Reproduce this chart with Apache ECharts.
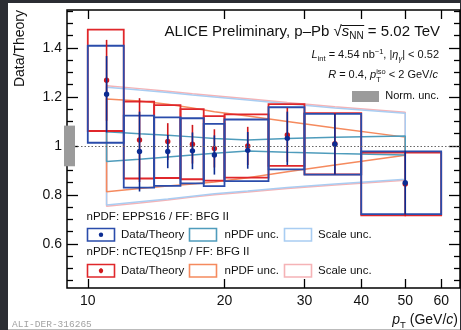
<!DOCTYPE html>
<html>
<head>
<meta charset="utf-8">
<script src="https://cdn.jsdelivr.net/npm/echarts@6/dist/echarts.min.js"></script>
<style>
  html, body { margin: 0; padding: 0; background: #2b2d33; }
  #panel { position: absolute; left: 8px; top: 3px; width: 452px; height: 326px; background: #fff; border-bottom: 1px solid #bbb; }
  #chart { position: absolute; left: 0; top: 0; width: 461px; height: 330px; }
</style>
</head>
<body>
<div id="panel"></div>
<div id="chart"></div>
<script>
// pT bins (GeV/c)
const binLo    = [10, 12, 14, 16, 18, 20, 25, 30, 40];
const binHi    = [12, 14, 16, 18, 20, 25, 30, 40, 60];
const ptCenter = [11, 13, 15, 17, 19, 22.5, 27.5, 35, 50];

// Data / theory, EPPS16 nPDF + BFG II FF
const eppsRatio = [1.211, 0.977, 0.977, 0.980, 0.963, 0.982, 1.031, 1.007, 0.850];
const eppsStat  = [0.156, 0.163, 0.068, 0.075, 0.080, 0.075, 0.109, 0.124, 0.130];
const eppsSyst  = [0.198, 0.147, 0.140, 0.133, 0.127, 0.126, 0.127, 0.124, 0.128];

// Data / theory, nCTEQ15np nPDF + BFG II FF
const ncteqRatio = [1.268, 1.024, 1.018, 1.007, 0.990, 1.000, 1.045, 1.009, 0.845];
const ncteqStat  = [0.165, 0.171, 0.075, 0.079, 0.078, 0.078, 0.110, 0.125, 0.132];
const ncteqSyst  = [0.207, 0.157, 0.149, 0.143, 0.132, 0.129, 0.126, 0.125, 0.128];

// Theory uncertainty bands (relative), at the bin centres
const eppsScaleHi  = [1.240, 1.228, 1.218, 1.208, 1.200, 1.188, 1.172, 1.155, 1.133];
const eppsScaleLo  = [0.759, 0.772, 0.783, 0.795, 0.805, 0.816, 0.830, 0.845, 0.864];
const ncteqScaleHi = [1.246, 1.234, 1.223, 1.213, 1.205, 1.193, 1.177, 1.160, 1.138];
const ncteqScaleLo = [0.754, 0.767, 0.779, 0.791, 0.801, 0.812, 0.826, 0.841, 0.860];
const eppsPdfHi    = [1.058, 1.050, 1.044, 1.037, 1.030, 1.024, 1.030, 1.035, 1.041];
const eppsPdfLo    = [0.936, 0.946, 0.955, 0.963, 0.970, 0.979, 0.974, 0.969, 0.963];
const ncteqPdfHi   = [1.192, 1.183, 1.170, 1.155, 1.140, 1.122, 1.100, 1.073, 1.036];
const ncteqPdfLo   = [0.813, 0.826, 0.836, 0.845, 0.853, 0.870, 0.895, 0.922, 0.962];

// Normalisation uncertainty (relative)
const normUnc = 0.083;

// Axis ticks
const xTickLabels = [10, 20, 30, 40, 50, 60];
const yTickLabels = [0.6, 0.8, 1, 1.2, 1.4];
const yMinorTicks = [0.45, 0.5, 0.55, 0.65, 0.7, 0.75, 0.85, 0.9, 0.95, 1.05, 1.1, 1.15, 1.25, 1.3, 1.35, 1.45, 1.5, 1.55];
const X_MIN = 9, X_MAX = 66, Y_MIN = 0.42, Y_MAX = 1.555;

const C = {
  blueBox: '#2a4cab', bluePt: '#0c2c92',
  redBox: '#e0272b', redPt: '#cf181c',
  teal: '#4f9cbc', lightBlue: '#a9cdf2',
  orange: '#f58a5e', pink: '#f5b3b6',
  norm: '#9b9b9b', text: '#111'
};
const FONT = '"Liberation Sans", Arial, sans-serif';

function band(hi, lo) {
  const pts = ptCenter.map((x, i) => [x, hi[i]]);
  for (let i = ptCenter.length - 1; i >= 0; i--) pts.push([ptCenter[i], lo[i]]);
  pts.push([ptCenter[0], hi[0]]);
  return pts;
}
function bandSeries(hi, lo, color) {
  return {
    type: 'line', data: band(hi, lo), showSymbol: false, silent: true,
    lineStyle: { color: color, width: 1.5 }, z: 2, clip: false
  };
}
function boxSeries(val, syst, color) {
  return {
    type: 'custom', z: 3, silent: true,
    data: binLo.map((lo, i) => [lo, binHi[i], val[i], syst[i]]),
    encode: { x: [0, 1], y: 2 },
    renderItem: function (params, api) {
      const a = api.coord([api.value(0), api.value(2) + api.value(3)]);
      const b = api.coord([api.value(1), api.value(2) - api.value(3)]);
      return { type: 'rect', shape: { x: a[0], y: a[1], width: b[0] - a[0], height: b[1] - a[1] },
               style: { fill: 'none', stroke: color, lineWidth: 1.8 } };
    }
  };
}
function pointSeries(val, stat, color) {
  return {
    type: 'custom', z: 4, silent: true,
    data: ptCenter.map((x, i) => [x, val[i], stat[i]]),
    encode: { x: 0, y: 1 },
    renderItem: function (params, api) {
      const c = api.coord([api.value(0), api.value(1)]);
      const t = api.coord([api.value(0), api.value(1) + api.value(2)]);
      const b = api.coord([api.value(0), api.value(1) - api.value(2)]);
      return { type: 'group', children: [
        { type: 'line', shape: { x1: t[0], y1: t[1], x2: b[0], y2: b[1] }, style: { stroke: color, lineWidth: 1.6 } },
        { type: 'circle', shape: { cx: c[0], cy: c[1], r: 2.7 }, style: { fill: color } }
      ] };
    }
  };
}

// Lay out a line of mixed-size text pieces, right-aligned at rightX on a baseline
const mctx = document.createElement('canvas').getContext('2d');
function textLine(pieces, anchorX, baseY, alignRight) {
  let x = 0, lastX = 0;
  const placed = [];
  pieces.forEach(p => {
    const font = (p.it ? 'italic ' : '') + p.s + 'px ' + FONT;
    mctx.font = font;
    const w = mctx.measureText(p.t).width;
    if (p.stack) { placed.push({ p, font, x: lastX }); x = Math.max(x, lastX + w); }
    else { placed.push({ p, font, x }); lastX = x; x += w; }
  });
  const x0 = alignRight ? anchorX - x : anchorX;
  const els = placed.map(q => ({
    type: 'text', x: x0 + q.x, y: baseY + (q.p.dy || 0) - 0.34 * q.p.s, silent: true,
    style: { text: q.p.t, font: q.font, fill: q.p.fill || C.text, align: 'left', verticalAlign: 'middle' }
  }));
  els.placed = placed.map(q => ({ x: x0 + q.x, t: q.p.t, font: q.font }));
  return els;
}
function widthOf(t, font) { mctx.font = font; return mctx.measureText(t).width; }

// Title and annotations
const g = [];
const title = textLine([
  { t: 'ALICE Preliminary, p\u2013Pb ', s: 15 },
  { t: '\u221A', s: 15 },
  { t: 's', s: 15, it: true },
  { t: 'NN', s: 10, dy: 3.5 },
  { t: ' = 5.02 TeV', s: 15 }
], 440, 36.5, true);
g.push(...title);
{
  const sx = title.placed[2].x;
  const ex = title.placed[3].x + widthOf('NN', '10px ' + FONT);
  g.push({ type: 'line', silent: true, shape: { x1: sx - 0.5, y1: 25.5, x2: ex + 0.5, y2: 25.5 }, style: { stroke: C.text, lineWidth: 1 } });
}
g.push(...textLine([
  { t: 'L', s: 11, it: true }, { t: 'int', s: 7.5, dy: 2.5 },
  { t: ' = 4.54 nb', s: 11 }, { t: '\u22121', s: 7.5, dy: -4 },
  { t: ', |', s: 11 }, { t: '\u03B7', s: 11, it: true }, { t: '\u03B3', s: 7.5, it: true, dy: 3 },
  { t: '| < 0.52', s: 11 }
], 439, 58.5, true));
g.push(...textLine([
  { t: 'R', s: 11, it: true }, { t: ' = 0.4, ', s: 11 },
  { t: 'p', s: 11, it: true }, { t: 'iso', s: 7.5, dy: -4.5 }, { t: 'T', s: 7.5, dy: 3, stack: true },
  { t: ' < 2 GeV/', s: 11 }, { t: 'c', s: 11, it: true }
], 438, 79, true));
g.push({ type: 'rect', silent: true, shape: { x: 352, y: 91, width: 27, height: 11 }, style: { fill: C.norm } });
g.push(...textLine([{ t: 'Norm. unc.', s: 11 }], 439, 100, true));

// Legend
function legBox(x, y, color) {
  return { type: 'rect', silent: true, shape: { x: x, y: y, width: 27, height: 12.5 }, style: { fill: '#fff', stroke: color, lineWidth: 1.6 } };
}
const rows = [
  { head: 'nPDF: EPPS16 / FF: BFG II', hy: 220.5, y: 228.5, pt: C.bluePt, box: C.blueBox, pdf: C.teal, scale: C.lightBlue, bar: 0 },
  { head: 'nPDF: nCTEQ15np / FF: BFG II', hy: 256.2, y: 264.5, pt: C.redPt, box: C.redBox, pdf: C.orange, scale: C.pink, bar: 2.5 }
];
rows.forEach(r => {
  g.push(...textLine([{ t: r.head, s: 11.5 }], 86.5, r.hy, false));
  g.push(legBox(87.5, r.y, r.box));
  if (r.bar) g.push({ type: 'line', silent: true, shape: { x1: 101, y1: r.y + 6.25 - r.bar, x2: 101, y2: r.y + 6.25 + r.bar }, style: { stroke: r.pt, lineWidth: 1.4 } });
  g.push({ type: 'circle', silent: true, shape: { cx: 101, cy: r.y + 6.25, r: 2.2 }, style: { fill: r.pt } });
  g.push(...textLine([{ t: 'Data/Theory', s: 11.5 }], 121, r.y + 10.2, false));
  g.push(legBox(189.5, r.y, r.pdf));
  g.push(...textLine([{ t: 'nPDF unc.', s: 11.5 }], 224.5, r.y + 10.2, false));
  g.push(legBox(284.5, r.y, r.scale));
  g.push(...textLine([{ t: 'Scale unc.', s: 11.5 }], 318, r.y + 10.2, false));
});

// Axis titles and figure id
g.push({ type: 'text', x: 20, y: 10, rotation: Math.PI / 2, silent: true,
         style: { text: 'Data/Theory', font: '14px ' + FONT, fill: C.text, align: 'right', verticalAlign: 'middle' } });
g.push(...textLine([
  { t: 'p', s: 14, it: true }, { t: 'T', s: 9.5, dy: 3.5 },
  { t: ' (GeV/', s: 14 }, { t: 'c', s: 14, it: true }, { t: ')', s: 14 }
], 458, 325, true));
g.push({ type: 'text', x: 12, y: 324, silent: true,
         style: { text: 'ALI-DER-316265', font: '9.5px "Liberation Mono", monospace', fill: '#a3a3a3', align: 'left', verticalAlign: 'middle' } });

const tickLbl = { fontFamily: FONT, fontSize: 14, color: C.text };
const xCommon = { type: 'log', min: X_MIN, max: X_MAX, logBase: 10, axisLine: { show: false }, splitLine: { show: false }, minorTick: { show: false } };
const yCommon = { type: 'value', min: Y_MIN, max: Y_MAX, axisLine: { show: false }, splitLine: { show: false } };

const option = {
  animation: false,
  backgroundColor: 'transparent',
  grid: { left: 67, right: 1, top: 10, bottom: 42, show: true, borderColor: '#000', borderWidth: 1.5, outerBoundsMode: 'none' },
  xAxis: [
    Object.assign({}, xCommon, { position: 'bottom',
      axisTick: { inside: true, length: 9, lineStyle: { color: '#000', width: 1.3 }, customValues: xTickLabels },
      axisLabel: { customValues: xTickLabels, margin: 6, ...tickLbl } }),
    Object.assign({}, xCommon, { position: 'top',
      axisTick: { inside: true, length: 9, lineStyle: { color: '#000', width: 1.3 }, customValues: xTickLabels },
      axisLabel: { show: false } })
  ],
  yAxis: [
    Object.assign({}, yCommon, { position: 'left',
      axisTick: { inside: true, length: 11, lineStyle: { color: '#000', width: 1.3 }, customValues: yTickLabels },
      axisLabel: { customValues: yTickLabels, margin: 5, ...tickLbl } }),
    Object.assign({}, yCommon, { position: 'left', offset: 0,
      axisTick: { inside: true, length: 6, lineStyle: { color: '#000', width: 1.3 }, customValues: yMinorTicks },
      axisLabel: { show: false } }),
    Object.assign({}, yCommon, { position: 'right',
      axisTick: { inside: true, length: 11, lineStyle: { color: '#000', width: 1.3 }, customValues: yTickLabels },
      axisLabel: { show: false } }),
    Object.assign({}, yCommon, { position: 'right', offset: 0,
      axisTick: { inside: true, length: 6, lineStyle: { color: '#000', width: 1.3 }, customValues: yMinorTicks },
      axisLabel: { show: false } })
  ],
  graphic: g,
  series: [
    bandSeries(ncteqScaleHi, ncteqScaleLo, C.pink),
    bandSeries(eppsScaleHi, eppsScaleLo, C.lightBlue),
    bandSeries(ncteqPdfHi, ncteqPdfLo, C.orange),
    bandSeries(eppsPdfHi, eppsPdfLo, C.teal),
    {
      type: 'custom', z: 5, silent: true, clip: false,
      data: [[1, normUnc]],
      encode: { y: 0 },
      renderItem: function (params, api) {
        const top = api.coord([X_MIN, api.value(0) + api.value(1)]);
        const bot = api.coord([X_MIN, api.value(0) - api.value(1)]);
        return { type: 'rect', shape: { x: top[0] - 3, y: top[1], width: 11, height: bot[1] - top[1] }, style: { fill: C.norm } };
      }
    },
    {
      type: 'line', data: [], silent: true,
      markLine: { silent: true, symbol: 'none', label: { show: false },
        lineStyle: { color: '#666', type: [1.5, 2], width: 1.2 }, data: [{ yAxis: 1 }] }
    },
    boxSeries(ncteqRatio, ncteqSyst, C.redBox),
    boxSeries(eppsRatio, eppsSyst, C.blueBox),
    pointSeries(ncteqRatio, ncteqStat, C.redPt),
    pointSeries(eppsRatio, eppsStat, C.bluePt)
  ]
};

const chart = echarts.init(document.getElementById('chart'), null, { renderer: 'canvas' });
chart.setOption(option);
</script>
</body>
</html>
